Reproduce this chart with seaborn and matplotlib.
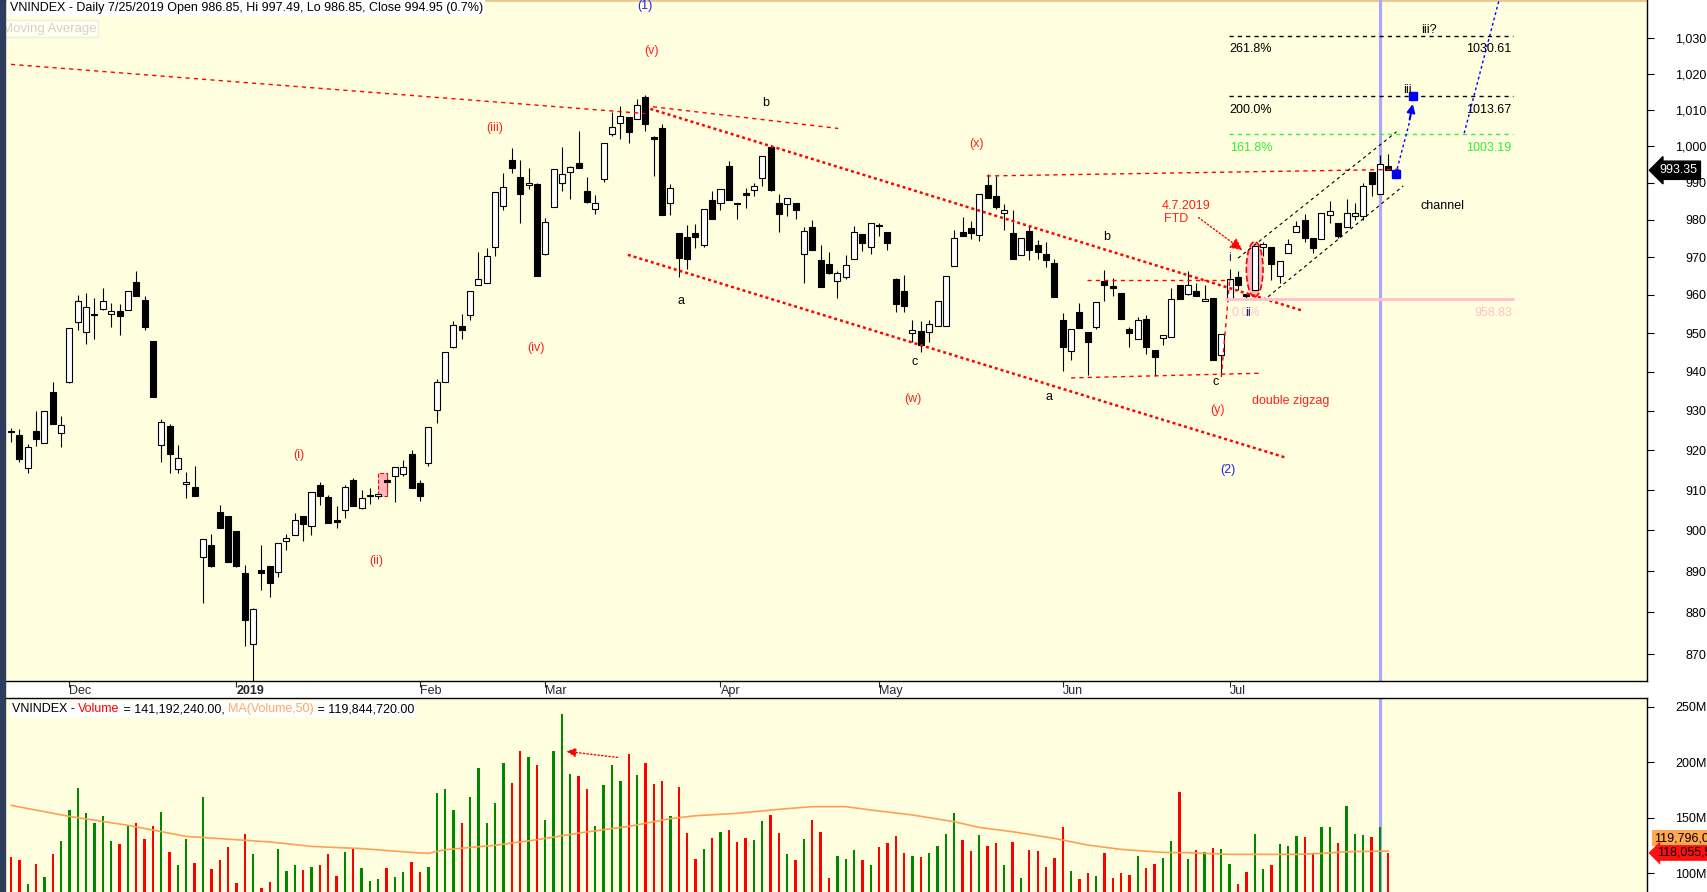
import numpy as np
import matplotlib
matplotlib.use("Agg")
import matplotlib.pyplot as plt
import matplotlib.transforms as mtransforms
import seaborn as sns
from matplotlib.patches import Rectangle, Ellipse
from matplotlib.ticker import FixedLocator, NullLocator
from matplotlib.offsetbox import TextArea, HPacker, AnchoredOffsetbox

# ---- daily VN-Index candles (22 Nov 2018 .. 25 Jul 2019) ----
open_ = [924.7, 923.8, 915.4, 924.8, 921.9, 934.7, 924.3, 937.4, 952.9, 950.3,
         954.6, 956.2, 954.9, 955.7, 956.0, 963.3, 958.6, 948.0, 921.2, 926.1,
         915.2, 911.5, 910.7, 893.4, 896.4, 904.5, 903.6, 899.8, 889.5, 872.5,
         890.3, 891.3, 889.9, 897.5, 898.8, 903.6, 901.0, 911.2, 908.2, 902.4,
         905.0, 912.6, 905.5, 908.4, 908.6, 912.2, 913.4, 913.9, 919.0, 911.7,
         916.7, 930.2, 937.3, 946.4, 951.8, 954.7, 962.6, 963.1, 972.7, 983.6,
         996.1, 991.4, 989.3, 989.5, 970.8, 983.3, 989.8, 992.8, 995.2, 987.7,
         982.8, 990.9, 1003.4, 1006.2, 1008.0, 1007.5, 1013.5, 1002.5, 1004.8, 984.6,
         976.4, 975.3, 976.4, 973.1, 985.2, 984.6, 994.6, 984.4, 987.2, 987.9,
         991.3, 999.6, 984.4, 984.1, 984.4, 970.8, 977.9, 969.2, 968.1, 963.6,
         964.6, 969.4, 976.1, 972.6, 978.4, 976.6, 964.2, 961.0, 950.0, 950.5,
         950.3, 951.9, 951.9, 967.7, 976.6, 977.7, 975.9, 989.3, 986.3, 981.8,
         976.4, 970.5, 977.0, 973.2, 970.8, 968.4, 953.4, 945.3, 955.5, 950.3,
         951.6, 963.7, 962.4, 960.4, 951.0, 948.4, 953.6, 945.7, 948.7, 949.1,
         962.5, 960.2, 960.9, 958.3, 959.1, 944.3, 958.8, 964.6, 960.2, 961.4,
         972.6, 972.6, 965.0, 971.2, 976.6, 980.0, 975.2, 974.7, 981.2, 979.1,
         978.0, 980.9, 981.1, 992.8, 986.85, 994.4]
high = [925.6, 925.4, 921.6, 929.9, 929.9, 937.3, 928.6, 951.3, 959.9, 960.4,
        959.1, 961.9, 957.8, 957.6, 960.9, 966.3, 959.7, 948.0, 927.9, 926.6,
        921.2, 914.6, 916.0, 897.8, 899.1, 906.3, 903.6, 899.8, 891.6, 881.0,
        896.3, 891.3, 896.9, 899.2, 904.2, 903.6, 909.5, 912.1, 908.7, 906.0,
        911.3, 913.0, 909.9, 910.4, 908.9, 914.2, 915.7, 917.4, 920.1, 912.5,
        925.8, 938.0, 945.1, 953.1, 955.0, 961.0, 971.4, 972.5, 987.4, 992.6,
        999.5, 996.1, 993.9, 989.8, 980.4, 993.8, 999.8, 994.4, 1004.0, 991.5,
        986.6, 1000.9, 1009.4, 1010.9, 1008.0, 1012.9, 1014.0, 1002.6, 1006.1, 989.6,
        976.4, 978.5, 978.8, 982.8, 987.8, 988.2, 995.9, 984.6, 988.5, 989.8,
        997.2, 999.6, 986.8, 985.8, 984.4, 977.9, 980.0, 973.1, 971.3, 966.2,
        970.5, 978.3, 976.1, 979.2, 979.2, 976.6, 964.5, 965.3, 953.5, 953.2,
        953.5, 958.3, 965.1, 977.2, 980.6, 979.6, 986.9, 992.4, 991.7, 984.2,
        982.5, 975.1, 978.3, 974.5, 973.9, 969.5, 955.2, 951.0, 957.8, 950.3,
        958.0, 966.5, 964.5, 960.4, 951.7, 954.1, 954.8, 945.7, 949.5, 961.7,
        962.5, 966.4, 963.1, 962.5, 959.1, 949.7, 966.7, 966.4, 960.2, 973.7,
        973.9, 972.6, 969.0, 974.7, 979.7, 981.4, 975.2, 981.9, 985.0, 979.1,
        985.6, 984.5, 989.8, 992.8, 997.49, 997.9]
low = [922.0, 916.9, 914.3, 921.0, 921.9, 926.6, 920.9, 937.0, 950.9, 947.1,
       948.4, 955.9, 951.5, 949.4, 956.0, 959.8, 950.9, 933.5, 917.0, 914.3,
       914.2, 907.9, 908.4, 882.2, 890.9, 900.5, 892.3, 891.1, 871.9, 863.5,
       885.4, 883.8, 888.6, 895.1, 898.8, 897.3, 898.9, 906.3, 901.7, 900.7,
       903.0, 906.1, 905.2, 906.6, 907.8, 908.4, 907.1, 913.4, 910.4, 907.3,
       915.9, 927.0, 937.3, 946.0, 948.4, 953.3, 962.6, 963.1, 970.2, 982.7,
       992.7, 979.2, 988.2, 965.1, 970.6, 983.3, 987.8, 985.5, 993.9, 984.4,
       981.4, 990.2, 1002.8, 1001.9, 1000.9, 1007.5, 1004.1, 991.8, 981.3, 981.3,
       964.6, 966.9, 972.4, 972.6, 980.3, 982.7, 985.4, 980.3, 983.0, 986.3,
       989.1, 987.8, 976.8, 981.1, 980.3, 963.0, 971.8, 962.0, 965.4, 959.3,
       964.3, 969.4, 971.7, 970.8, 975.5, 971.8, 955.4, 955.4, 947.6, 945.0,
       947.8, 951.9, 951.9, 967.7, 975.5, 974.9, 974.4, 985.9, 982.8, 977.1,
       969.6, 970.5, 969.2, 969.6, 967.3, 959.5, 940.3, 943.1, 951.3, 939.2,
       951.0, 958.5, 959.8, 953.8, 946.3, 948.4, 944.5, 938.9, 946.9, 949.1,
       958.8, 959.9, 959.8, 958.3, 943.0, 938.9, 958.8, 961.3, 958.6, 960.4,
       970.2, 963.9, 963.1, 971.2, 976.6, 974.1, 971.1, 974.7, 979.1, 975.2,
       978.0, 980.0, 980.0, 986.5, 986.85, 993.35]
close = [924.5, 917.8, 920.8, 922.9, 929.9, 926.6, 926.3, 951.3, 958.5, 956.9,
         954.6, 958.3, 955.7, 954.4, 960.9, 959.8, 951.7, 933.5, 927.1, 919.0,
         918.0, 912.0, 908.4, 897.8, 891.3, 900.5, 892.3, 891.3, 878.1, 880.8,
         889.5, 887.2, 896.9, 898.1, 902.5, 901.5, 909.5, 908.4, 901.7, 902.1,
         910.7, 906.1, 908.0, 908.5, 908.8, 912.0, 915.7, 915.7, 910.4, 908.4,
         925.8, 937.3, 945.1, 952.1, 950.7, 961.0, 964.1, 970.2, 987.4, 988.7,
         994.0, 986.9, 990.0, 965.1, 979.3, 993.6, 992.2, 994.2, 993.9, 984.8,
         984.4, 1000.9, 1005.1, 1008.1, 1003.7, 1011.4, 1006.1, 1002.0, 981.3, 988.4,
         969.8, 969.4, 975.4, 982.8, 980.3, 988.2, 985.4, 984.1, 986.6, 989.0,
         997.2, 988.1, 981.6, 985.8, 982.5, 976.9, 971.8, 962.0, 965.9, 965.7,
         967.8, 976.6, 973.8, 979.2, 978.2, 973.8, 957.7, 957.2, 950.9, 946.8,
         952.3, 958.3, 965.1, 975.2, 975.5, 976.3, 986.9, 985.9, 983.5, 982.5,
         969.6, 975.1, 971.8, 971.3, 969.1, 959.5, 946.3, 951.0, 951.3, 947.8,
         958.0, 962.5, 961.8, 953.8, 949.9, 953.4, 946.5, 943.7, 949.5, 958.8,
         958.8, 962.5, 959.8, 958.8, 943.0, 949.7, 964.1, 962.5, 959.7, 972.9,
         973.4, 968.1, 969.0, 973.4, 978.4, 975.2, 972.4, 981.9, 982.2, 975.7,
         981.9, 981.7, 989.2, 989.5, 994.95, 993.35]
# volume in millions of shares
volume = [114.7, 111.7, 90.1, 108.1, 96.4, 117.1, 128.8, 156.7, 176.6, 153.7,
          145.0, 151.3, 128.8, 126.1, 143.2, 145.0, 130.6, 142.3, 155.0, 118.9,
          107.2, 130.6, 109.0, 168.5, 103.6, 111.7, 123.4, 91.0, 135.1, 117.1,
          86.5, 91.9, 121.6, 101.8, 107.2, 102.7, 105.4, 107.2, 117.1, 97.3,
          118.9, 121.6, 104.5, 92.8, 94.6, 104.5, 96.4, 100.9, 109.9, 100.9,
          105.4, 172.1, 175.7, 156.7, 145.0, 168.5, 194.6, 145.0, 163.0, 199.1,
          181.1, 209.9, 204.5, 197.3, 147.7, 209.9, 243.2, 189.2, 187.4, 175.7,
          142.3, 179.3, 197.3, 182.9, 207.2, 188.3, 199.1, 180.2, 182.9, 151.3,
          177.5, 136.0, 112.6, 121.6, 131.5, 136.9, 138.7, 127.9, 131.5, 129.7,
          146.8, 152.3, 136.0, 117.1, 111.7, 130.6, 147.7, 136.9, 95.5, 115.3,
          112.6, 120.7, 111.7, 107.2, 123.4, 127.0, 133.3, 118.0, 115.3, 114.4,
          118.0, 124.3, 135.1, 154.0, 129.7, 119.8, 134.2, 124.3, 127.0, 107.2,
          127.9, 95.5, 120.7, 119.8, 105.4, 113.5, 141.4, 101.8, 94.6, 100.0,
          97.3, 118.0, 95.5, 100.0, 98.2, 115.3, 104.5, 108.1, 113.5, 128.8,
          173.0, 112.6, 120.7, 118.9, 122.5, 121.6, 108.1, 90.1, 100.9, 135.1,
          103.6, 107.2, 126.1, 124.3, 133.3, 132.4, 117.1, 141.4, 141.4, 127.0,
          160.4, 135.1, 134.2, 132.4, 141.19, 118.06]
# MA(Volume,50) read at a few bars
ma_bar = [0, 7, 14, 21, 31, 36, 42, 49, 50, 52, 58, 63, 68, 74, 79, 82, 87, 92, 96,
          100, 103, 108, 113, 116, 120, 125, 129, 133, 138, 141, 146, 154, 157, 160, 165]
ma_val = [161, 151, 143, 133, 128, 124, 122, 118, 117.7, 121, 125, 130, 136, 142, 149,
          151.6, 153.8, 157.4, 159.8, 159.8, 156.8, 152.3, 146.2, 141.1, 137.2, 131.2,
          125.2, 121.3, 118.6, 118.3, 116.8, 116.8, 117.7, 119.2, 119.8]

month_pos = [7, 27, 49, 64, 85, 104, 126, 146]
month_lbl = ["Dec", "2019", "Feb", "Mar", "Apr", "May", "Jun", "Jul"]
price_ticks = list(range(870, 1031, 10))
vol_ticks = [100, 150, 200, 250]

fib_pct = ["261.8%", "200.0%", "161.8%"]
fib_lvl = [1030.61, 1013.67, 1003.19]
fib_col = ["black", "black", "#33EE33"]
base_lvl = 958.83

# wave labels: (bar, price, text, colour)
RED, BLUE, NAVY = "#FF2020", "#2020FF", "#202080"
wave_labels = [
    (75.9, 1039.0, "(1)", BLUE), (76.7, 1026.3, "(v)", RED), (57.9, 1004.8, "(iii)", RED),
    (62.9, 946.0, "(iv)", RED), (34.5, 918.8, "(i)", RED), (43.7, 892.5, "(ii)", RED),
    (108.0, 932.9, "(w)", RED), (115.7, 1000.6, "(x)", RED), (144.6, 930.1, "(y)", RED),
    (145.8, 915.0, "(2)", BLUE), (153.3, 932.6, "double zigzag", RED),
    (80.3, 958.5, "a", "black"), (90.4, 1011.7, "b", "black"), (108.3, 942.6, "c", "black"),
    (124.4, 933.6, "a", "black"), (131.3, 975.3, "b", "black"), (144.3, 937.4, "c", "black"),
    (146.0, 969.7, "i", NAVY), (148.2, 955.3, "ii", NAVY), (167.3, 1015.4, "iii", "black"),
    (169.9, 1032.3, "iii?", "black"), (171.5, 983.7, "channel", "black"),
    (140.8, 983.7, "4.7.2019", RED), (139.6, 980.1, "FTD", RED),
]
# red trend lines: (bar0, price0, bar1, price1, thick)
red_lines = [
    (0.0, 1022.6, 76.0, 1008.9, False),
    (76.9, 1010.8, 99.1, 1004.8, False),
    (76.6, 1010.2, 154.8, 955.8, True),
    (73.9, 970.6, 152.9, 918.0, True),
    (116.9, 991.8, 166.8, 993.6, False),
    (128.9, 963.8, 146.0, 963.8, False),
    (127.0, 938.4, 149.6, 939.6, False),
    (145.0, 938.6, 146.0, 963.9, False),
]
channel_lines = [(147.0, 969.7, 166.0, 1003.9), (150.6, 959.5, 166.8, 989.1)]

sns.set_theme(style="white")
plt.rcParams["font.family"] = ["Liberation Sans", "DejaVu Sans"]
plt.rcParams["axes.unicode_minus"] = False

BG = "#FFFFE0"
W, H = 1707, 892
fig = plt.figure(figsize=(W / 100, H / 100), dpi=100, facecolor="white")
ax = fig.add_axes([5 / W, 1 - 681 / H, 1642 / W, 681 / H], facecolor=BG)
axv = fig.add_axes([5 / W, 0, 1642 / W, 194 / H], facecolor=BG)
fig.patches.append(Rectangle((0, 0), 5 / W, 1, transform=fig.transFigure,
                             color="#2E3D5C", zorder=10))

o = np.array(open_); h = np.array(high); l = np.array(low); c = np.array(close)
x = np.arange(len(c))
up = c >= o

# ---- price panel ----
ax.set_yscale("log")
ax.vlines(x, l, h, color="black", lw=0.8, zorder=3)
blo = np.minimum(o, c)
bh = np.maximum(np.abs(c - o), 0.45)
ax.bar(x, bh, bottom=blo, width=0.72, color=np.where(up, "white", "black"),
       edgecolor="black", linewidth=0.8, zorder=4)

for x0, y0, x1, y1, thick in red_lines:
    if thick:
        ax.plot([x0, x1], [y0, y1], color="red", lw=1.8, ls=(0, (1.2, 1.2)), zorder=5)
    else:
        ax.plot([x0, x1], [y0, y1], color="red", lw=1.0, ls=(0, (3, 3)), zorder=5)
for x0, y0, x1, y1 in channel_lines:
    ax.plot([x0, x1], [y0, y1], color="black", lw=0.8, ls=(0, (3, 3)), zorder=5)

# highlighted candles
ax.add_patch(Rectangle((44.0, 908.4), 1.0, 5.8, fc="#FFB6C1", ec="red", ls="--", lw=0.8, zorder=3.5))
ax.add_patch(Ellipse((149.0, 966.8), 2.0, 14.6, fc="#FFB8C0", ec="red", ls="--", lw=1.2, zorder=3.5))

# fibonacci levels
for pct, lvl, col in zip(fib_pct, fib_lvl, fib_col):
    ax.plot([145.9, 180.0], [lvl, lvl], color=col, lw=1.0, ls=(0, (3, 3)), zorder=5)
    ax.text(146.0, lvl * 0.998, pct, color=col, fontsize=9, ha="left", va="top")
    ax.text(179.8, lvl * 0.998, f"{lvl:.2f}", color=col, fontsize=9, ha="right", va="top")
ax.plot([145.6, 180.0], [base_lvl, base_lvl], color="#FFC0CB", lw=2.0, zorder=5)
ax.text(146.2, base_lvl * 0.998, "0.0%", color="#FFC0CB", fontsize=9, ha="left", va="top")
ax.text(179.8, base_lvl * 0.998, f"{base_lvl:.2f}", color="#FFC0CB", fontsize=9, ha="right", va="top")

# projected path
ax.plot([165.9], [992.3], "s", color="blue", ms=6, zorder=6)
ax.plot([168.0], [1013.67], "s", color="blue", ms=6, zorder=6)
ax.plot([165.9, 167.6], [992.3, 1007.0], color="blue", lw=1.0, ls=(0, (2, 2)), zorder=5)
ax.annotate("", xy=(168.0, 1012.3), xytext=(167.5, 1006.5),
            arrowprops=dict(arrowstyle="-|>", color="blue", lw=1.5, mutation_scale=12), zorder=6)
ax.plot([174.1, 178.3], [1003.5, 1041.0], color="blue", lw=1.0, ls=(0, (2, 2)), zorder=5)

# FTD arrow
ax.annotate("", xy=(147.8, 971.4), xytext=(142.0, 981.0),
            arrowprops=dict(arrowstyle="-|>", color="red", lw=1.0, ls=":", mutation_scale=18), zorder=6)

for bx, py, s, col in wave_labels:
    ax.text(bx, py, s, color=col, fontsize=9, ha="center", va="center", zorder=7, clip_on=True)

ax.axvline(164, color="#A8A8FF", lw=2.3, zorder=2)

ax.set_xlim(-0.72, 196.0)
ax.set_ylim(863.6, 1040.8)
ax.yaxis.set_major_locator(FixedLocator(price_ticks))
ax.yaxis.set_minor_locator(NullLocator())
ax.set_yticklabels([f"{t:,}" for t in price_ticks])
ax.yaxis.tick_right()
ax.tick_params(axis="y", direction="out", length=5, width=0.8, pad=38, labelsize=9,
               colors="black", right=True, left=False)
for lbl in ax.get_yticklabels():
    lbl.set_horizontalalignment("right")
ax.set_xticks(month_pos)
ax.set_xticklabels(month_lbl)
ax.xaxis.set_minor_locator(NullLocator())
ax.tick_params(axis="x", direction="out", length=4, width=0.8, pad=-1, labelsize=9, bottom=True)
for lbl in ax.get_xticklabels():
    lbl.set_horizontalalignment("left")
    if lbl.get_text() == "2019":
        lbl.set_fontweight("bold")
for side in ["left", "top"]:
    ax.spines[side].set_visible(False)
for side in ["right", "bottom"]:
    ax.spines[side].set_color("black")
    ax.spines[side].set_linewidth(1.0)
ax.axhline(1040.8, color="#E8C890", lw=2.0, zorder=1)
ax.grid(False)

ax.text(0.0028, 0.997, "VNINDEX - Daily 7/25/2019 Open 986.85, Hi 997.49, Lo 986.85, Close 994.95 (0.7%)",
        transform=ax.transAxes, fontsize=9, ha="left", va="top", color="black",
        bbox=dict(fc="white", ec="none", pad=1.5), zorder=8)
ax.text(-0.002, 0.958, "Moving Average", transform=ax.transAxes, fontsize=9.5, ha="left", va="center",
        color="#D2D2C8", bbox=dict(fc="#FFFFF2", ec="#EEEEDD", pad=1.5), zorder=8)

blend = mtransforms.blended_transform_factory(ax.transAxes, ax.transData)
ax.text(1.0075, 993.35, "993.35", transform=blend, fontsize=9, color="white", ha="left", va="center",
        bbox=dict(boxstyle="larrow,pad=0.25", fc="black", ec="black"), clip_on=False, zorder=9)

# ---- volume panel ----
vcol = np.where(up, "#008800", "#FF0000")
axv.bar(x, volume, width=0.28, color=vcol, linewidth=0, zorder=3)
sns.lineplot(x=ma_bar, y=ma_val, ax=axv, color="#FFA050", lw=1.2, zorder=4)
axv.axvline(164, color="#A8A8FF", lw=2.3, zorder=2)
axv.annotate("", xy=(66.2, 209.9), xytext=(73.0, 203.9),
             arrowprops=dict(arrowstyle="-|>", color="red", lw=1.0, ls=":", mutation_scale=14), zorder=6)
axv.set_xlim(-0.72, 196.0)
axv.set_ylim(82.9, 257.7)
axv.set_xticks([])
axv.yaxis.tick_right()
axv.set_yticks(vol_ticks)
axv.set_yticklabels([f"{v}M" for v in vol_ticks])
axv.tick_params(axis="y", direction="out", length=5, width=0.8, pad=38, labelsize=9,
                colors="black", right=True, left=False)
for lbl in axv.get_yticklabels():
    lbl.set_horizontalalignment("right")
for side in ["left", "bottom"]:
    axv.spines[side].set_visible(False)
for side in ["right", "top"]:
    axv.spines[side].set_color("black")
    axv.spines[side].set_linewidth(1.0)
axv.set_xlabel("")
axv.set_ylabel("")
axv.grid(False)

parts = [("VNINDEX - ", "black"), ("Volume", "red"), (" = 141,192,240.00, ", "black"),
         ("MA(Volume,50)", "#FFA860"), (" = 119,844,720.00", "black")]
boxes = [TextArea(t, textprops=dict(color=col, fontsize=9)) for t, col in parts]
pack = HPacker(children=boxes, pad=0, sep=0, align="baseline")
ab = AnchoredOffsetbox(loc="upper left", child=pack, pad=0.15, frameon=True,
                       bbox_to_anchor=(0.0028, 0.985), bbox_transform=axv.transAxes, borderpad=0)
ab.patch.set_facecolor("white")
ab.patch.set_edgecolor("none")
ab.set_zorder(8)
axv.add_artist(ab)

vblend = mtransforms.blended_transform_factory(axv.transAxes, axv.transData)
axv.text(1.004, 131.5, "119,796,000.00", transform=vblend, fontsize=9, color="black", ha="left",
         va="center", bbox=dict(boxstyle="square,pad=0.15", fc="#FFA850", ec="none"), clip_on=False)
axv.text(1.006, 118.06, "118,055,500.00", transform=vblend, fontsize=9, color="black", ha="left",
         va="center", bbox=dict(boxstyle="larrow,pad=0.15", fc="#FF1010", ec="none"), clip_on=False)

fig.savefig("out.png", dpi=100, facecolor="white")
